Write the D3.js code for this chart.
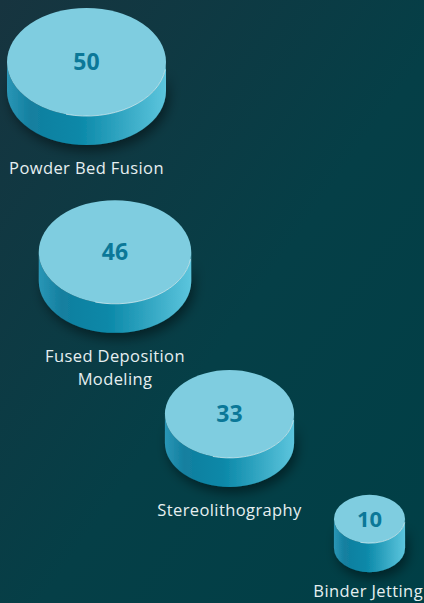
<!DOCTYPE html>
<html>
<head>
<meta charset="utf-8">
<script src="https://cdn.jsdelivr.net/npm/d3@7"></script>
<style>
  html, body { margin: 0; padding: 0; background: #0d3a43; }
  #container { width: 424px; height: 603px; overflow: hidden; }
</style>
</head>
<body>
<div id="container"></div>
<script>
let w = 424;
let h = 603;

// data
let categories = ["Powder Bed Fusion", "Fused Deposition Modeling", "Stereolithography", "Binder Jetting"];
let values = [50, 46, 33, 10];
// label lines (wrapped as in the picture)
let labelLines = [["Powder Bed Fusion"], ["Fused Deposition", "Modeling"], ["Stereolithography"], ["Binder Jetting"]];

// layout: where each disc's top face sits (staircase)
let anchorX = d3.scaleLinear().domain([0, 1, 2, 3]).range([86.5, 115, 229.5, 369.5]);
let anchorY = d3.scaleLinear().domain([0, 1, 2, 3]).range([62, 252, 414, 519]);

let rScale = d3.scaleSqrt().domain([0, 50]).range([0, 79.5]);
let tilt = 0.68;   // ry / rx
let depth = 29;    // cylinder height

let viz = d3.select("#container")
  .append("svg")
    .attr("width", w)
    .attr("height", h)
    .attr("viewBox", "0 0 " + w + " " + h);

let defs = viz.append("defs");

let bg = defs.append("linearGradient").attr("id", "bg")
  .attr("x1", "0").attr("y1", "0").attr("x2", "1").attr("y2", "1");
bg.append("stop").attr("offset", "0%").attr("stop-color", "#17343f");
bg.append("stop").attr("offset", "55%").attr("stop-color", "#053f47");
bg.append("stop").attr("offset", "100%").attr("stop-color", "#003f46");

let side = defs.append("linearGradient").attr("id", "side")
  .attr("x1", "0").attr("y1", "0").attr("x2", "1").attr("y2", "0");
side.append("stop").attr("offset", "0%").attr("stop-color", "#2a96b6");
side.append("stop").attr("offset", "15%").attr("stop-color", "#137f9f");
side.append("stop").attr("offset", "45%").attr("stop-color", "#0a88a8");
side.append("stop").attr("offset", "100%").attr("stop-color", "#5cc5dd");

let shadow = defs.append("filter").attr("id", "shadow")
  .attr("x", "-30%").attr("y", "-30%").attr("width", "160%").attr("height", "170%");
shadow.append("feDropShadow")
  .attr("dx", 3).attr("dy", 6).attr("stdDeviation", 6)
  .attr("flood-color", "#000").attr("flood-opacity", 0.45);

viz.append("rect").attr("width", w).attr("height", h).attr("fill", "url(#bg)");

let data = categories.map((c, i) => ({ name: c, value: values[i], lines: labelLines[i], i: i }));

let discs = viz.selectAll("g.disc")
  .data(data)
  .enter()
  .append("g")
    .attr("class", "disc")
    .attr("transform", d => "translate(" + anchorX(d.i) + "," + anchorY(d.i) + ")");

function sidePath(d) {
  let rx = rScale(d.value), ry = rx * tilt;
  return "M" + (-rx) + ",0 L" + (-rx) + "," + depth +
    " A" + rx + "," + ry + " 0 0 0 " + rx + "," + depth +
    " L" + rx + ",0 A" + rx + "," + ry + " 0 0 1 " + (-rx) + ",0 Z";
}

discs.append("path")
  .attr("d", sidePath)
  .attr("fill", "url(#side)")
  .attr("filter", "url(#shadow)");

discs.append("ellipse")
  .attr("rx", d => rScale(d.value))
  .attr("ry", d => rScale(d.value) * tilt)
  .attr("fill", "#7fcde0");

// thin highlight along the front-right rim
discs.append("path")
  .attr("d", d => {
    let rx = rScale(d.value), ry = rx * tilt;
    let a = 105 * Math.PI / 180;
    let b = 8 * Math.PI / 180;
    return "M" + (rx * Math.cos(b)) + "," + (ry * Math.sin(b)) +
      " A" + rx + "," + ry + " 0 0 1 " + (rx * Math.cos(a)) + "," + (ry * Math.sin(a));
  })
  .attr("fill", "none")
  .attr("stroke", "#d8f2f8")
  .attr("stroke-opacity", 0.7)
  .attr("stroke-width", 1);

discs.append("text")
  .attr("text-anchor", "middle")
  .attr("dy", "0.36em")
  .attr("font-family", "'Open Sans', sans-serif")
  .attr("font-weight", 700)
  .attr("font-size", d => d.value < 20 ? 22 : 23)
  .attr("fill", "#0b7898")
  .text(d => d.value);

discs.each(function(d) {
  let rx = rScale(d.value), ry = rx * tilt;
  let base = ry + depth + 29;
  let t = d3.select(this).append("text")
    .attr("text-anchor", "middle")
    .attr("font-family", "'Open Sans', sans-serif")
    .attr("font-size", 16.5)
    .attr("letter-spacing", 0.4)
    .attr("fill", "#e6eff1");
  d.lines.forEach((line, k) => {
    t.append("tspan").attr("x", 0).attr("y", base + k * 23).text(line);
  });
  // keep the label inside the page edges
  let bb = t.node().getBBox();
  let overX = anchorX(d.i) + bb.x + bb.width - (w - 1);
  let overY = anchorY(d.i) + bb.y + bb.height - (h - 1);
  t.attr("transform", "translate(" + (-Math.max(0, overX)) + "," + (-Math.max(0, overY)) + ")");
});
</script>
</body>
</html>
